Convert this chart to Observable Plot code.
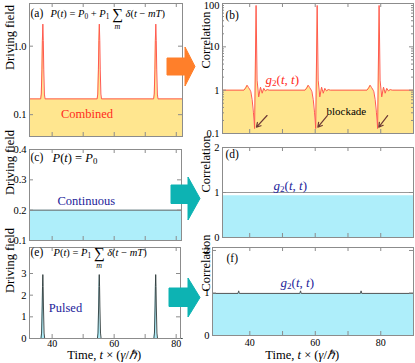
<!DOCTYPE html>
<html><head><meta charset="utf-8">
<script src="https://cdn.jsdelivr.net/npm/d3@7"></script>
<script src="https://cdn.jsdelivr.net/npm/@observablehq/plot@0.6"></script>
<style>
body{margin:0;background:#fff;}
#fig{position:relative;width:415px;height:363px;overflow:hidden;}
#fig svg{position:absolute;left:0;top:0;}
</style></head><body><div id="fig"></div>
<script>
// ---------------- data ----------------
const timeTicks = [40, 50, 60, 70, 80];
const timeTickLabels = [40, 60, 80];

// (a) combined driving field P(t) = P0 + P1 sum delta
const combinedTime = [32.7, 36.3, 36.5, 36.7, 36.85, 37.0, 37.15, 37.3, 37.5, 37.7,
  54.5, 54.7, 54.9, 55.05, 55.2, 55.35, 55.5, 55.7, 55.9,
  72.7, 72.9, 73.1, 73.25, 73.4, 73.55, 73.7, 73.9, 74.1, 82];
const combinedField = [0.17, 0.17, 0.2, 0.45, 1.2, 2.1, 1.2, 0.45, 0.2, 0.17,
  0.17, 0.2, 0.45, 1.2, 2.1, 1.2, 0.45, 0.2, 0.17,
  0.17, 0.2, 0.45, 1.2, 2.1, 1.2, 0.45, 0.2, 0.17, 0.17];

// (b) g2(t,t) for combined driving
const g2CombTime = [31.7,
  38.25, 38.75, 39.2, 39.65, 40.15, 40.35, 40.75, 41.15, 41.5, 41.95, 42.25, 42.75, 43.3, 43.8, 44.3, 44.8, 45.35, 45.95,
  56.9, 57.4, 57.85, 58.3, 58.8, 59.0, 59.4, 59.8, 60.15, 60.6, 60.9, 61.4, 61.95, 62.45, 62.95, 63.45, 64.0, 64.6,
  75.8, 76.3, 76.75, 77.2, 77.7, 77.9, 78.3, 78.7, 79.05, 79.5, 79.8, 80.3, 80.85, 81.35, 81.85, 82.35, 82.9, 83.5,
  90];
const g2CombValue = [1.0,
  1.0, 1.12, 1.3, 1.15, 1.0, 0.92, 0.6, 0.3, 0.13, 90, 1.7, 0.7, 1.17, 0.85, 1.1, 0.96, 1.03, 1.0,
  1.0, 1.12, 1.3, 1.15, 1.0, 0.92, 0.6, 0.3, 0.13, 90, 1.7, 0.7, 1.17, 0.85, 1.1, 0.96, 1.03, 1.0,
  1.0, 1.12, 1.3, 1.15, 1.0, 0.92, 0.6, 0.3, 0.13, 90, 1.7, 0.7, 1.17, 0.85, 1.1, 0.96, 1.03, 1.0,
  1.0];
// blockade arrows (b)
const blockadeFromT = [45.3, 63.7, 82.1];
const blockadeFromG = [0.26, 0.26, 0.26];
const blockadeToT = [42.05, 60.8, 79.4];
const blockadeToG = [0.14, 0.14, 0.14];

// (c) continuous driving field
const contTime = [32.7, 81.7];
const contField = [0.2, 0.2];

// (d) g2 for continuous driving
const g2ContTime = [31.7, 90];
const g2ContValue = [0.93, 0.93];

// (e) pulsed driving field
const pulsedTime = [32.7,
  36.4, 36.6, 36.8, 36.9, 37.0, 37.1, 37.2, 37.4, 37.6,
  54.6, 54.8, 55.0, 55.1, 55.2, 55.3, 55.4, 55.6, 55.8,
  72.8, 73.0, 73.2, 73.3, 73.4, 73.5, 73.6, 73.8, 74.0, 82];
const pulsedField = [0,
  0, 0.25, 1.5, 2.4, 2.95, 2.4, 1.5, 0.25, 0,
  0, 0.25, 1.5, 2.4, 2.95, 2.4, 1.5, 0.25, 0,
  0, 0.25, 1.5, 2.4, 2.95, 2.4, 1.5, 0.25, 0, 0];

// (f) g2 for pulsed driving
const g2PulsTime = [28.6, 36.4, 36.6, 36.8, 55.3, 55.5, 55.7, 73.8, 74.0, 74.2, 90];
const g2PulsValue = [0.99, 0.99, 1.05, 0.99, 0.99, 1.05, 0.99, 0.99, 1.05, 0.99, 0.99];

// ---------------- style ----------------
const W = 415, H = 363;
const serif = "'Liberation Serif', 'Times New Roman', serif";
const frameGray = "#8c8c8c";
const yellow = "#ffe68f", redLine = "#ff5a4f", redText = "#ff2b1c";
const cyan = "#aeeefa", navy = "#23239a";

const zip = (xs, ys) => xs.map((t, i) => ({t, v: ys[i]}));

function ticksMarks(l, r, t, b, xt, yt, ym) {
  const w = r - l, h = b - t;
  const m = [
    Plot.ruleX(xt, {x: d => d, insetTop: h - 4, stroke: frameGray}),
    Plot.ruleX(xt, {x: d => d, insetBottom: h - 4, stroke: frameGray}),
    Plot.ruleY(yt, {y: d => d, insetRight: w - 4, stroke: frameGray}),
    Plot.ruleY(yt, {y: d => d, insetLeft: w - 4, stroke: frameGray})
  ];
  if (ym) {
    m.push(Plot.ruleY(ym, {y: d => d, insetRight: w - 2, stroke: frameGray}));
    m.push(Plot.ruleY(ym, {y: d => d, insetLeft: w - 2, stroke: frameGray}));
  }
  return m;
}
function note(txt, dx, dy, o = {}) {
  return Plot.text([txt], {text: d => d, frameAnchor: "top-left", textAnchor: "start", lineAnchor: "middle", dx, dy, ...o});
}
function yTitle(txt, dx) {
  return Plot.text([txt], {text: d => d, frameAnchor: "left", rotate: -90, dx, fontSize: 12.5});
}
function yLabels(vals, fmt, o = {}) {
  return Plot.text(vals, {y: d => d, text: fmt, frameAnchor: "left", textAnchor: "end", dx: -3, fontSize: 10.5, ...o});
}
function xLabels(vals, dy) {
  return Plot.text(vals, {x: d => d, text: d => String(d), frameAnchor: "bottom", lineAnchor: "top", dy, fontSize: 10});
}
function xTitle(tx, dy) {
  return Plot.text(["Time, t × (γ/ℏ)"], {x: () => tx, text: d => d, frameAnchor: "bottom", lineAnchor: "top", dy, fontSize: 12.5});
}
function panel(f, xDomain, yType, yDomain, marks) {
  return Plot.plot({
    width: W, height: H,
    marginLeft: f[0], marginRight: W - f[1], marginTop: f[2], marginBottom: H - f[3],
    x: {domain: xDomain, axis: null},
    y: {type: yType, domain: yDomain, axis: null},
    style: {background: "none", fontFamily: serif, fontSize: "11px", color: "black", overflow: "visible"},
    marks
  });
}
const fmtNum = d => String(d);

// ---------------- panels ----------------
const fig = document.getElementById("fig");
const plots = [];

// (a)
{
  const f = [29, 182, 3, 136], yd = [0.048, 4.2];
  const data = zip(combinedTime, combinedField);
  plots.push(panel(f, [32.7, 82], "log", yd, [
    Plot.areaY(data, {x: "t", y1: () => yd[0], y2: "v", fill: yellow}),
    Plot.line(data, {x: "t", y: "v", stroke: redLine, strokeWidth: 1}),
    Plot.frame({stroke: frameGray}),
    ...ticksMarks(...f, timeTicks, [0.1, 1]),
    yLabels([0.1, 1], d => d === 1 ? "1.0" : "0.1"),
    yTitle("Driving field", -20),
    note("(a)", 1, 10, {fontSize: 11.5}),
    note("P(t) = P_0 + P_1 ∑ δ(t − mT)", 21, 10, {fontSize: 10.5}),
    note("Combined", 57.5, 110, {textAnchor: "middle", fill: redText, fontSize: 12.5})
  ]));
}
// (b)
{
  const f = [222, 413, 3, 133], yd = [0.1, 100];
  const data = zip(g2CombTime, g2CombValue);
  const arrows = blockadeFromT.map((t, i) => ({x1: t, y1: blockadeFromG[i], x2: blockadeToT[i], y2: blockadeToG[i]}));
  plots.push(panel(f, [31.7, 90], "log", yd, [
    Plot.areaY(data, {x: "t", y1: () => yd[0], y2: "v", fill: yellow}),
    Plot.line(data, {x: "t", y: "v", stroke: redLine, strokeWidth: 1}),
    Plot.arrow(arrows, {x1: "x1", y1: "y1", x2: "x2", y2: "y2", stroke: "#6e3a35", strokeWidth: 1.2, headLength: 6}),
    Plot.frame({stroke: frameGray}),
    ...ticksMarks(...f, timeTicks, [0.1, 1, 10, 100],
      [0.2, 0.3, 0.4, 0.5, 0.6, 0.7, 0.8, 0.9, 2, 3, 4, 5, 6, 7, 8, 9, 20, 30, 40, 50, 60, 70, 80, 90]),
    yLabels([0.1, 1, 10], fmtNum),
    yLabels([100], fmtNum, {dy: 2}),
    yTitle("Correlation", -17),
    note("(b)", 3, 12, {fontSize: 11.5}),
    note("g_2(t, t)", 43, 76, {fontSize: 13, fill: redText}),
    note("blockade", 104, 108, {fontSize: 11})
  ]));
}
// (c)
{
  const f = [29, 181, 149, 240], yd = [0.1, 0.4];
  const data = zip(contTime, contField);
  plots.push(panel(f, [32.7, 81.7], "linear", yd, [
    Plot.areaY(data, {x: "t", y1: () => yd[0], y2: "v", fill: cyan}),
    Plot.line(data, {x: "t", y: "v", stroke: "#666", strokeWidth: 1}),
    Plot.frame({stroke: frameGray}),
    ...ticksMarks(...f, timeTicks, [0.1, 0.2, 0.3, 0.4]),
    yLabels([0.1, 0.2, 0.3, 0.4], d => d.toFixed(1)),
    yTitle("Driving field", -20),
    note("(c)", 1, 8, {fontSize: 11.5}),
    note("P(t) = P_0", 23, 8, {fontSize: 12.5}),
    note("Continuous", 28, 51, {fill: navy, fontSize: 12.5})
  ]));
}
// (d)
{
  const f = [222, 413, 147, 237], yd = [0, 2];
  const data = zip(g2ContTime, g2ContValue);
  plots.push(panel(f, [31.7, 90], "linear", yd, [
    Plot.areaY(data, {x: "t", y1: () => 0, y2: "v", fill: cyan}),
    Plot.ruleY([1], {stroke: "#9a9a9a", strokeWidth: 1}),
    Plot.frame({stroke: frameGray}),
    ...ticksMarks(...f, timeTicks, [0, 1, 2]),
    yLabels([0, 1, 2], fmtNum),
    yTitle("Correlation", -17),
    note("(d)", 3, 7, {fontSize: 11.5}),
    note("g_2(t, t)", 51, 38, {fontSize: 13, fill: navy})
  ]));
}
// (e)
{
  const f = [29, 180, 247, 338], yd = [0, 4.2];
  const data = zip(pulsedTime, pulsedField);
  plots.push(panel(f, [32.7, 81.4], "linear", yd, [
    Plot.areaY(data, {x: "t", y1: () => 0, y2: "v", fill: cyan}),
    Plot.line(data, {x: "t", y: "v", stroke: "#2e3a3a", strokeWidth: 0.9}),
    Plot.frame({stroke: frameGray}),
    ...ticksMarks(...f, timeTicks, [0, 1, 2, 3]),
    yLabels([0, 1, 2, 3], fmtNum),
    yTitle("Driving field", -20),
    xLabels(timeTickLabels, 1),
    xTitle(56.8, 12),
    note("(e)", 1, 5, {fontSize: 11.5}),
    note("P(t) = P_1 ∑ δ(t − mT)", 24, 5, {fontSize: 10.5}),
    note("Pulsed", 36, 60, {textAnchor: "middle", fill: navy, fontSize: 12.5})
  ]));
}
// (f)
{
  const f = [212, 413, 247, 335], yd = [0, 2.07];
  const data = zip(g2PulsTime, g2PulsValue);
  plots.push(panel(f, [28.6, 90], "linear", yd, [
    Plot.areaY(data, {x: "t", y1: () => 0, y2: "v", fill: cyan}),
    Plot.line(data, {x: "t", y: "v", stroke: "#555", strokeWidth: 1}),
    Plot.frame({stroke: frameGray}),
    ...ticksMarks(...f, timeTicks, [0, 1, 2]),
    yLabels([0, 1, 2], fmtNum),
    yTitle("Correlation", -7),
    xLabels(timeTickLabels, 3),
    xTitle(56, 15),
    note("(f)", 14, 11, {fontSize: 11.5}),
    note("g_2(t, t)", 68, 35, {fontSize: 13, fill: navy})
  ]));
}
plots.forEach(p => fig.appendChild(p));

// ---------------- rich text (math italics, subscripts, sum index) ----------------
const NS = "http://www.w3.org/2000/svg";
function tspan(txt, attrs = {}) {
  const t = document.createElementNS(NS, "tspan");
  t.textContent = txt;
  for (const k in attrs) t.setAttribute(k, attrs[k]);
  return t;
}
function renderMath(el, s) {
  el.textContent = "";
  el.style.whiteSpace = "pre";
  let off = 0, count = 0, sumIndex = -1;
  const put = (txt, attrs, target) => {
    const t = tspan(txt, attrs);
    if (target !== off) t.setAttribute("dy", target - off);
    off = target;
    el.appendChild(t);
    count += txt.length;
  };
  for (let k = 0; k < s.length; k++) {
    const c = s[k];
    if (c === "_") { put(s[k + 1], {"font-size": "0.7em", "font-style": "normal"}, 2.5); k++; continue; }
    if (c === "∑") { sumIndex = count; put(c, {"font-size": "1.45em", "font-style": "normal"}, 2); continue; }
    const ital = /[A-Za-zδγℏ]/.test(c);
    put(c, {"font-style": ital ? "italic" : "normal"}, 0);
  }
  return sumIndex;
}
fig.querySelectorAll("text").forEach(el => {
  const s = el.textContent;
  if (s.startsWith("Time, ")) {
    el.textContent = "";
    el.append(tspan("Time, "), tspan("t", {"font-style": "italic"}), tspan(" × ("),
      tspan("γ", {"font-style": "italic"}), tspan("/"), tspan("ℏ", {"font-style": "italic"}), tspan(")"));
    return;
  }
  if (s.startsWith("P(t)") || s.startsWith("g_2")) {
    const i = renderMath(el, s);
    if (i >= 0) {
      const ext = el.getExtentOfChar(i);
      const p = el.getStartPositionOfChar(i);
      const m = document.createElementNS(NS, "text");
      m.textContent = "m";
      if (el.getAttribute("transform")) m.setAttribute("transform", el.getAttribute("transform"));
      m.setAttribute("x", ext.x + ext.width / 2);
      m.setAttribute("y", p.y + 10);
      m.setAttribute("text-anchor", "middle");
      m.setAttribute("font-size", "8px");
      m.setAttribute("font-style", "italic");
      el.parentNode.appendChild(m);
    }
  }
});

// decorative block arrows between columns
const arrowSvg = d3.create("svg").attr("width", W).attr("height", H);
const arrowShapes = [
  {fill: "#ff7f2a", pts: [[167,58],[185,58],[185,47],[195,66.5],[185,86],[185,75],[167,75]]},
  {fill: "#0db3b3", pts: [[171,185],[188,185],[188,177],[200,198.5],[188,220],[188,203.5],[171,203.5]]},
  {fill: "#0db3b3", pts: [[169,288],[188,288],[188,278],[200,297.5],[188,317],[188,306.5],[169,306.5]]}
];
arrowSvg.selectAll("polygon").data(arrowShapes).join("polygon")
  .attr("points", d => d.pts.map(p => p.join(",")).join(" "))
  .attr("fill", d => d.fill).attr("stroke", d => d.fill).attr("stroke-linejoin", "round").attr("stroke-width", 1);
fig.appendChild(arrowSvg.node());
</script></body></html>
